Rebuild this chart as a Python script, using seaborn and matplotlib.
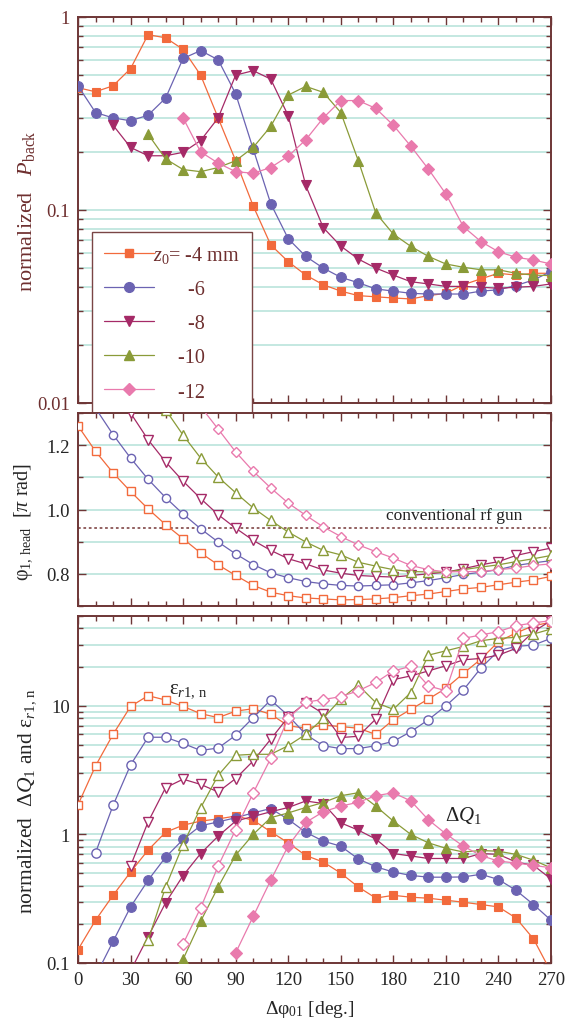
import numpy as np
import matplotlib
matplotlib.use("Agg")
import matplotlib.pyplot as plt
import seaborn as sns
from matplotlib.ticker import MultipleLocator, LogLocator, NullFormatter, FuncFormatter
from matplotlib.lines import Line2D

# ---------------- data ----------------
phase = list(range(0, 280, 10))          # delta phi_01 [deg]
z0_labels = ["-4", "-6", "-8", "-10", "-12"]

# normalized P_back (top panel)
pb_m4 = [0.43, 0.41, 0.44, 0.54, 0.81, 0.78, 0.68, 0.50, 0.30, 0.18, 0.105, 0.066, 0.054, 0.046,
         0.041, 0.038, 0.036, 0.0355, 0.035, 0.0346, 0.036, 0.037, 0.041, 0.044, 0.047, 0.046, 0.047, 0.047]
pb_m6 = [0.44, 0.32, 0.30, 0.29, 0.31, 0.38, 0.61, 0.67, 0.60, 0.40, 0.207, 0.108, 0.071, 0.0575,
         0.050, 0.0448, 0.042, 0.039, 0.038, 0.037, 0.0367, 0.0367, 0.0367, 0.038, 0.0386, 0.0406, 0.0434, 0.048]
pb_m8 = [0.275, 0.211, 0.191, 0.191, 0.199, 0.229, 0.30, 0.50, 0.527, 0.477, 0.308, 0.134, 0.081,
         0.065, 0.0557, 0.050, 0.046, 0.0425, 0.0414, 0.0402, 0.0402, 0.0398, 0.0393, 0.0398, 0.0402, 0.0414]
pb_m10 = [0.247, 0.184, 0.162, 0.158, 0.166, 0.18, 0.211, 0.271, 0.394, 0.437, 0.407, 0.32, 0.180,
          0.0965, 0.075, 0.0648, 0.0575, 0.0525, 0.0505, 0.049, 0.049, 0.047, 0.046, 0.0457]
pb_m12 = [0.30, 0.20, 0.175, 0.158, 0.155, 0.166, 0.19, 0.231, 0.30, 0.369, 0.369, 0.336, 0.275,
          0.214, 0.163, 0.121, 0.082, 0.0686, 0.0608, 0.0569, 0.0551, 0.0525]

# phi_1,head [pi rad] (middle panel)
ph_m4 = [1.26, 1.181, 1.114, 1.056, 1.002, 0.953, 0.909, 0.865, 0.828, 0.795, 0.764, 0.743, 0.732, 0.725,
         0.722, 0.719, 0.720, 0.722, 0.726, 0.732, 0.737, 0.745, 0.753, 0.758, 0.766, 0.774, 0.781, 0.792]
ph_m6 = [1.315, 1.233, 1.160, 1.094, 1.037, 0.986, 0.940, 0.899, 0.862, 0.829, 0.803, 0.788, 0.776,
         0.769, 0.764, 0.762, 0.764, 0.766, 0.772, 0.779, 0.788, 0.798, 0.805, 0.813, 0.826, 0.834, 0.841]
ph_m8 = [1.385, 1.30, 1.217, 1.148, 1.088, 1.034, 0.984, 0.942, 0.904, 0.873, 0.847, 0.831, 0.812,
         0.802, 0.795, 0.792, 0.790, 0.795, 0.800, 0.805, 0.816, 0.828, 0.838, 0.857, 0.869, 0.880]
ph_m10 = [1.31, 1.231, 1.160, 1.101, 1.052, 1.005, 0.966, 0.930, 0.899, 0.873, 0.859, 0.836, 0.824,
          0.813, 0.807, 0.806, 0.805, 0.813, 0.821, 0.828, 0.838, 0.847, 0.857]
ph_m12 = [1.32, 1.250, 1.179, 1.119, 1.067, 1.020, 0.982, 0.946, 0.916, 0.890, 0.869, 0.849, 0.826,
          0.813, 0.806, 0.807, 0.807, 0.813, 0.818, 0.826, 0.831]

# normalized emittance eps_r1,n (bottom panel, open)
em_m4 = [1.7, 3.41, 6.0, 9.9, 12.0, 11.1, 9.9, 8.7, 8.1, 9.1, 9.5, 8.6, 7.0, 6.7, 7.1, 6.9, 6.7, 6.0,
         7.8, 9.4, 11.3, 13.7, 17.9, 23.1, 31.6, 36.9, 42.0, 44.7]
em_m6 = [0.72, 1.68, 3.47, 5.7, 5.7, 5.1, 4.5, 4.7, 5.9, 8.1, 11.1, 8.4, 6.0, 4.9, 4.65, 4.65, 4.9,
         5.3, 6.3, 7.8, 10.0, 13.3, 19.7, 26.8, 29.0, 29.7, 33.5]
em_m8 = [0.57, 1.25, 2.31, 2.69, 2.45, 2.14, 2.72, 3.73, 5.5, 8.2, 10.6, 8.7, 5.67, 5.8, 7.9, 16.0,
         17.1, 18.7, 20.5, 22.8, 23.4, 24.8, 28.0, 37.8, 46.0]
em_m10 = [0.15, 0.39, 0.835, 1.61, 2.88, 4.13, 4.2, 4.2, 4.9, 6.0, 8.0, 11.3, 14.5, 10.6, 9.4, 12.7,
          24.8, 26.8, 29.0, 32.1, 33.5, 34.1, 36.2, 39.6]
em_m12 = [0.141, 0.268, 0.567, 1.09, 2.1, 3.9, 8.0, 10.7, 11.2, 11.8, 13.1, 15.2, 18.7, 20.3, 14.3,
          13.1, 33.5, 35.6, 37.8, 42.0, 44.2, 46.0]

# normalized Delta Q_1 (bottom panel, filled)
dq_m4 = [0.127, 0.215, 0.336, 0.51, 0.755, 1.04, 1.18, 1.27, 1.32, 1.39, 1.29, 1.05, 0.86, 0.686, 0.61,
         0.50, 0.39, 0.32, 0.336, 0.325, 0.319, 0.308, 0.297, 0.285, 0.273, 0.224, 0.154, 0.085]
dq_m6 = [0.079, 0.147, 0.273, 0.44, 0.665, 0.914, 1.17, 1.25, 1.35, 1.47, 1.59, 1.31, 1.04, 0.887, 0.81,
         0.645, 0.56, 0.51, 0.48, 0.465, 0.465, 0.467, 0.49, 0.446, 0.368, 0.285, 0.215]
dq_m8 = [0.087, 0.16, 0.294, 0.479, 0.71, 0.97, 1.27, 1.38, 1.50, 1.62, 1.82, 1.74, 1.23, 1.08, 0.92,
         0.71, 0.68, 0.65, 0.65, 0.65, 0.71, 0.70, 0.61, 0.575, 0.45]
dq_m10 = [0.107, 0.211, 0.39, 0.69, 1.0, 1.35, 1.47, 1.62, 1.77, 2.0, 2.11, 1.66, 1.27, 1.0, 0.86,
          0.78, 0.73, 0.75, 0.74, 0.70, 0.63, 0.55]
dq_m12 = [0.12, 0.23, 0.44, 0.815, 1.24, 1.5, 1.66, 1.78, 2.0, 2.11, 1.82, 1.30, 1.01, 0.81, 0.685,
          0.62, 0.60, 0.575, 0.55]

# ---------------- style ----------------
sns.set_theme(style="ticks")
plt.rcParams["font.family"] = ["Liberation Serif", "DejaVu Serif"]
plt.rcParams["mathtext.fontset"] = "custom"
plt.rcParams["mathtext.rm"] = "Liberation Serif"
plt.rcParams["mathtext.it"] = "Liberation Serif:italic"
plt.rcParams["mathtext.bf"] = "Liberation Serif:bold"

colors = ["#f26a3c", "#6b63b2", "#a52a67", "#8a9b38", "#e97aad"]
markers = ["s", "o", "v", "^", "D"]
msizes = [6.0, 7.0, 7.8, 7.8, 6.2]
spine_c = "#6e3636"
brown = "#6e2f2f"
grid_c = "#b4e2d8"
FS = 13.5
LFS = 15.5

fig = plt.figure(figsize=(5.76, 10.2), dpi=100)
L, W = 78 / 576, (551 - 78) / 576
def ax_at(top_px, bot_px):
    return fig.add_axes([L, 1 - bot_px / 1020, W, (bot_px - top_px) / 1020])

ax1 = ax_at(18, 404)
ax2 = ax_at(414, 607)
ax3 = ax_at(617, 964)

def draw(ax, vals, k, filled, ms_scale=1.0):
    xs = phase[len(phase) - len(vals):]
    c = colors[k]
    sns.lineplot(x=xs, y=vals, ax=ax, color=c, marker=markers[k],
                 markersize=msizes[k] * ms_scale, linewidth=0.9,
                 markerfacecolor=c if filled else "white",
                 markeredgecolor=c, markeredgewidth=0.8 if filled else 1.0,
                 estimator=None, sort=False, legend=False, zorder=3 + k)

for ax in (ax1, ax3):
    ax.set_yscale("log")

for k, v in enumerate([pb_m4, pb_m6, pb_m8, pb_m10, pb_m12]):
    draw(ax1, v, k, True)
for k, v in enumerate([ph_m4, ph_m6, ph_m8, ph_m10, ph_m12]):
    draw(ax2, v, k, False, 0.85)
for k, v in enumerate([em_m4, em_m6, em_m8, em_m10, em_m12]):
    draw(ax3, v, k, False, 0.95)
for k, v in enumerate([dq_m4, dq_m6, dq_m8, dq_m10, dq_m12]):
    draw(ax3, v, k, True)

# ---------------- axes formatting ----------------
for ax in (ax1, ax2, ax3):
    ax.set_xlim(0, 270)
    ax.xaxis.set_major_locator(MultipleLocator(30))
    ax.xaxis.set_minor_locator(MultipleLocator(10))
    ax.yaxis.grid(True, which="both", color=grid_c, linewidth=1.1)
    ax.xaxis.grid(False)
    ax.set_axisbelow(True)
    for s in ax.spines.values():
        s.set_color(spine_c)
        s.set_linewidth(1.4)
    ax.tick_params(which="both", direction="in", top=True, right=True, color=spine_c,
                   labelsize=FS, width=1.0)
    ax.tick_params(which="major", length=6)
    ax.tick_params(which="minor", length=3.5)
    ax.tick_params(axis="y", pad=6)
    ax.tick_params(axis="x", pad=6)
    ax.set_xlabel("")
    ax.set_ylabel("")

for ax in (ax1, ax2):
    ax.tick_params(axis="x", labelbottom=False)

ax3.xaxis.set_major_formatter(FuncFormatter(lambda v, p: f"{v:.0f}"))

def logfmt(v, p):
    if v >= 1:
        return f"{v:.0f}"
    return f"{v:.{int(round(-np.log10(v)))}f}"

ax1.set_ylim(0.01, 1)
ax1.yaxis.set_major_locator(LogLocator(base=10, numticks=10))
ax1.yaxis.set_minor_locator(LogLocator(base=10, subs=np.arange(2, 10), numticks=20))
ax1.yaxis.set_major_formatter(FuncFormatter(logfmt))
ax1.yaxis.set_minor_formatter(NullFormatter())
ax1.tick_params(axis="y", labelcolor=brown)

ax2.set_ylim(0.7, 1.3)
ax2.yaxis.set_major_locator(MultipleLocator(0.2))
ax2.yaxis.set_minor_locator(MultipleLocator(0.1))
ax2.yaxis.set_major_formatter(FuncFormatter(lambda v, p: f"{v:.1f}"))

ax3.set_ylim(0.1, 50)
ax3.yaxis.set_major_locator(LogLocator(base=10, numticks=10))
ax3.yaxis.set_minor_locator(LogLocator(base=10, subs=np.arange(2, 10), numticks=20))
ax3.yaxis.set_major_formatter(FuncFormatter(logfmt))
ax3.yaxis.set_minor_formatter(NullFormatter())

# labels
ax1.set_ylabel("normalized   $P_{\\rm back}$", fontsize=LFS + 0.5, color=brown)
ax1.yaxis.set_label_coords(-0.086, 0.50)
ax2.set_ylabel("\u03c6$_{\\rm 1,\\,head}$  [$\\pi$ rad]", fontsize=LFS - 1)
ax2.yaxis.set_label_coords(-0.09, 0.44)
ax3.set_ylabel("normalized  \u0394$Q_{\\rm 1}$ and \u03b5$_{r{\\rm 1,\\,n}}$", fontsize=LFS)
ax3.yaxis.set_label_coords(-0.085, 0.47)
ax3.set_xlabel("\u0394\u03c6$_{\\rm 01}$ [deg.]", fontsize=FS + 0.5)
ax3.xaxis.set_label_coords(0.49, -0.10)

# reference line and annotations
ax2.axhline(0.942, color="#8a5555", linestyle=(0, (1.5, 1.5)), linewidth=1.3, zorder=2)
ax2.text(215, 0.984, "conventional rf gun", ha="center", va="center", fontsize=FS - 1, color="#222222")
ax3.text(63, 13.5, "\u03b5$_{r{\\rm 1,\\,n}}$", ha="center", va="center", fontsize=FS + 1.5, color="#222222")
ax3.text(220, 1.43, "\u0394$Q_{\\rm 1}$", ha="center", va="center", fontsize=FS + 1.5, color="#222222")

# legend
handles = [Line2D([], [], color=colors[k], marker=markers[k], markersize=msizes[k],
                  markerfacecolor=colors[k], markeredgecolor=colors[k], linewidth=0.9)
           for k in range(5)]
labels = ["$z_0$= " + z0_labels[0] + " mm",
          "       " + z0_labels[1],
          "       " + z0_labels[2],
          "     " + z0_labels[3],
          "     " + z0_labels[4]]
leg = ax1.legend(handles, labels, loc="upper left", bbox_to_anchor=(0.0296, 0.444),
                 borderaxespad=0, frameon=True, fancybox=False, framealpha=1,
                 edgecolor="#7a4545", fontsize=FS + 1, labelcolor=brown,
                 handlelength=2.5, handletextpad=-0.05, labelspacing=0.75, borderpad=0.6,
                 numpoints=1)
leg.get_frame().set_linewidth(1.0)
leg.set_zorder(20)

fig.savefig("out.png", dpi=100)
